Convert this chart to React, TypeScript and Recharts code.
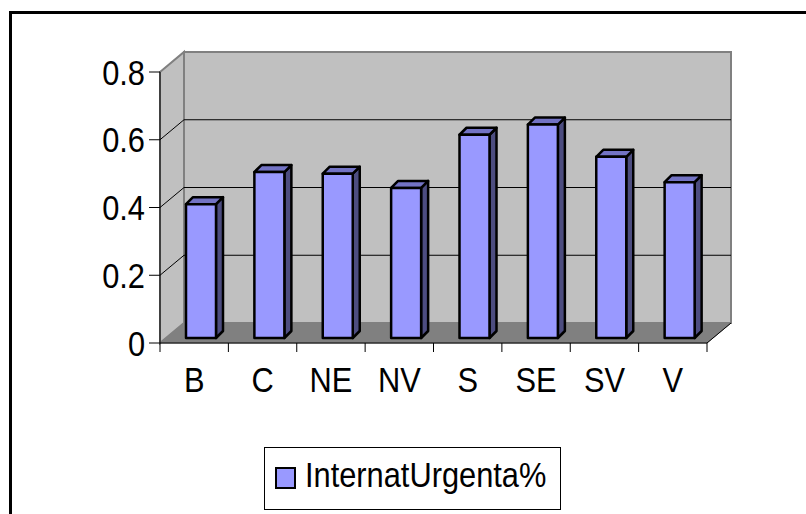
import React from 'react';
import { BarChart, Bar, XAxis, YAxis, ReferenceArea, ReferenceLine, Legend } from 'recharts';

const regions = ['B', 'C', 'NE', 'NV', 'S', 'SE', 'SV', 'V'];
const internatUrgenta = [0.395, 0.49, 0.485, 0.443, 0.6, 0.63, 0.535, 0.46];
const yTicks = [0, 0.2, 0.4, 0.6, 0.8];
const gridValues = [0.2, 0.4, 0.6];

const data = regions.map((name, i) => ({ name, value: internatUrgenta[i] }));

const FONT = 'Liberation Sans, Arial, sans-serif';
const FONT_SIZE = 35;
const SQUEEZE = 0.88; // the original text is a bit condensed
// depth of the 3D box (wall offset) and of each bar
const DX = 24;
const DY = -20;
const BAR_DX = 7;
const BAR_DY = -7;
const BAR_SHIFT_X = 7;
const BAR_SHIFT_Y = -5;

const Walls = (props: any) => {
  const { x, y, width, height } = props;
  const b = y + height;
  return (
    <g>
      <polygon
        points={`${x},${y} ${x + DX},${y + DY} ${x + DX},${b + DY} ${x},${b}`}
        fill="#c0c0c0"
        stroke="#808080"
        strokeWidth={2}
      />
      <rect x={x + DX} y={y + DY} width={width} height={height} fill="#c0c0c0" stroke="#808080" strokeWidth={2} />
      <polygon
        points={`${x},${b} ${x + DX},${b + DY} ${x + width + DX},${b + DY} ${x + width},${b}`}
        fill="#808080"
        stroke="#808080"
        strokeWidth={1}
      />
      <line x1={x + width} y1={b} x2={x + width + DX} y2={b + DY} stroke="#000" strokeWidth={1} />
    </g>
  );
};

const GridLine3D = (props: any) => {
  const { x1, y1, x2 } = props;
  return (
    <g>
      <line x1={x1} y1={y1} x2={x1 + DX} y2={y1 + DY} stroke="#000" strokeWidth={1} />
      <line x1={x1 + DX} y1={y1 + DY} x2={x2 + DX} y2={y1 + DY} stroke="#000" strokeWidth={1} />
    </g>
  );
};

const Bar3D = (props: any) => {
  const { x, y, width, height } = props;
  const fx = x + BAR_SHIFT_X;
  const fy = y + BAR_SHIFT_Y;
  const r = fx + width;
  const bt = fy + height;
  return (
    <g stroke="#000" strokeWidth={2.5} strokeLinejoin="round">
      <polygon points={`${r},${fy} ${r + BAR_DX},${fy + BAR_DY} ${r + BAR_DX},${bt + BAR_DY} ${r},${bt}`} fill="#4d4d80" />
      <polygon points={`${fx},${fy} ${fx + BAR_DX},${fy + BAR_DY} ${r + BAR_DX},${fy + BAR_DY} ${r},${fy}`} fill="#7373c4" />
      <rect x={fx} y={fy} width={width} height={height} fill="#9999ff" />
    </g>
  );
};

const Label = ({ x, y, anchor, children }: any) => (
  <g transform={`translate(${x},${y}) scale(${SQUEEZE},1)`}>
    <text x={0} y={0} textAnchor={anchor} fontSize={FONT_SIZE} fontFamily={FONT} fill="#000">
      {children}
    </text>
  </g>
);

const CategoryTick = (props: any) => {
  const { x, y, payload, index, visibleTicksCount } = props;
  const half = payload && payload.offset ? payload.offset : 34.2;
  return (
    <g>
      <line x1={x - half} y1={y} x2={x - half} y2={y + 9} stroke="#000" />
      {index === visibleTicksCount - 1 && (
        <line x1={x + half} y1={y} x2={x + half} y2={y + 9} stroke="#000" />
      )}
      <Label x={x} y={y + 49} anchor="middle">
        {payload.value}
      </Label>
    </g>
  );
};

const ValueTick = (props: any) => {
  const { x, y, payload } = props;
  return (
    <Label x={x} y={y + 12.5} anchor="end">
      {String(payload.value)}
    </Label>
  );
};

const LegendBox = (props: any) => {
  const item = props.payload && props.payload[0];
  return (
    <svg width={297} height={63} style={{ display: 'block' }}>
      <rect x={0.5} y={0.5} width={296} height={62} fill="#fff" stroke="#000" strokeWidth={1} />
      <rect x={12} y={21} width={19} height={20} fill={item ? item.color : '#9999ff'} stroke="#000" strokeWidth={2} />
      <Label x={41} y={40} anchor="start">
        {item ? item.value : ''}
      </Label>
    </svg>
  );
};

export default function App() {
  return (
    <div style={{ position: 'absolute', left: 0, top: 0, width: 806, height: 514, background: '#fff' }}>
      <div
        style={{
          position: 'absolute',
          left: 9,
          top: 11,
          width: 797,
          height: 503,
          borderTop: '3px solid #000',
          borderLeft: '3px solid #000',
        }}
      />
      <div style={{ position: 'absolute', left: 0, top: 0 }}>
        <BarChart
          width={806}
          height={514}
          data={data}
          barSize={30}
          margin={{ top: 72, right: 99, bottom: 141, left: 100 }}
        >
          <ReferenceArea y1={0} y2={0.8} shape={<Walls />} zIndex={50} ifOverflow="visible" />
          {gridValues.map((v) => (
            <ReferenceLine key={v} y={v} shape={<GridLine3D />} zIndex={60} ifOverflow="visible" />
          ))}
          <XAxis
            dataKey="name"
            axisLine={{ stroke: '#000', strokeWidth: 1 }}
            tickLine={false}
            tickSize={0}
            tickMargin={0}
            interval={0}
            tick={<CategoryTick />}
          />
          <YAxis
            width={60}
            domain={[0, 0.8]}
            ticks={yTicks}
            interval={0}
            axisLine={{ stroke: '#000', strokeWidth: 1 }}
            tickLine={{ stroke: '#000' }}
            tickSize={11}
            tickMargin={4}
            tick={<ValueTick />}
          />
          <Legend
            layout="vertical"
            align="center"
            verticalAlign="middle"
            content={<LegendBox />}
            wrapperStyle={{ left: 264, top: 447, width: 297, height: 63 }}
          />
          <Bar
            dataKey="value"
            name="InternatUrgenta%"
            fill="#9999ff"
            shape={<Bar3D />}
            isAnimationActive={false}
          />
        </BarChart>
      </div>
    </div>
  );
}
